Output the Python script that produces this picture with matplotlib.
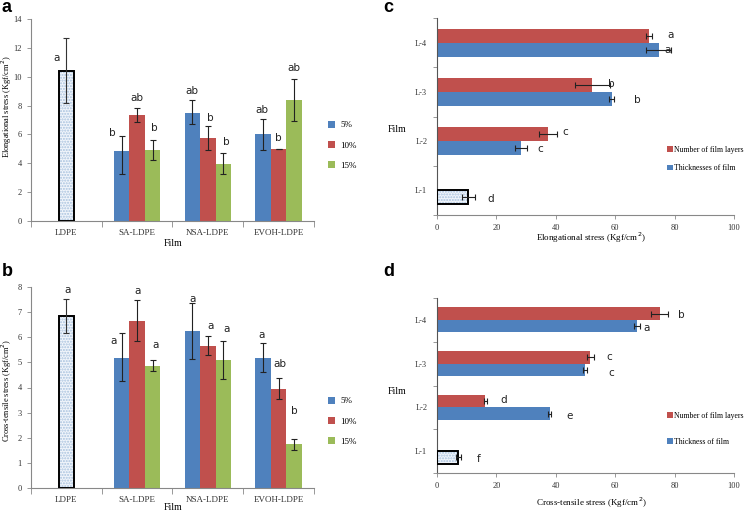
import matplotlib.pyplot as plt
import numpy as np

plt.rcParams['font.family'] = ['Liberation Serif', 'DejaVu Serif']

# ---- data panels a / b ----
films = ["LDPE", "SA-LDPE", "NSA-LDPE", "EVOH-LDPE"]
conc = ["5%", "10%", "15%"]

ldpe_elong = 10.4
ldpe_elong_lo = 8.15
ldpe_elong_hi = 12.65
elong_5 = [4.88, 7.51, 6.0]
elong_5_lo = [3.26, 6.72, 4.92]
elong_5_hi = [5.86, 8.42, 7.06]
elong_10 = [7.33, 5.72, 5.0]
elong_10_lo = [6.84, 4.91, 4.98]
elong_10_hi = [7.84, 6.58, 5.02]
elong_15 = [4.91, 3.93, 8.37]
elong_15_lo = [4.26, 3.26, 6.93]
elong_15_hi = [5.6, 4.7, 9.81]
elong_letters = ["a", "b", "ab", "b", "ab", "b", "b", "ab", "b", "ab"]

ldpe_cross = 6.83
ldpe_cross_lo = 6.17
ldpe_cross_hi = 7.51
cross_5 = [5.19, 6.25, 5.17]
cross_5_lo = [4.26, 5.13, 4.6]
cross_5_hi = [6.17, 7.35, 5.77]
cross_10 = [6.64, 5.66, 3.95]
cross_10_lo = [5.85, 5.29, 3.53]
cross_10_hi = [7.48, 6.03, 4.37]
cross_15 = [4.85, 5.1, 1.75]
cross_15_lo = [4.66, 4.34, 1.51]
cross_15_hi = [5.08, 5.85, 1.95]
cross_letters = ["a", "a", "a", "a", "a", "a", "a", "a", "ab", "b"]

# ---- data panels c / d ----
layers = ["L-1", "L-2", "L-3", "L-4"]
elong_layers = [37.4, 52.3, 71.5]
elong_layers_err = [3.1, 5.9, 1.0]
elong_thick = [28.2, 58.8, 74.7]
elong_thick_err = [2.1, 0.8, 4.2]
elong_l1 = 10.6
elong_l1_err = 2.3
elong_layer_letters = ["d", "c", "c", "b", "b", "a", "a"]

cross_layers = [16.3, 51.6, 75.0]
cross_layers_err = [0.4, 1.2, 2.8]
cross_thick = [37.9, 49.9, 67.4]
cross_thick_err = [0.6, 0.7, 1.0]
cross_l1 = 7.2
cross_l1_err = 0.8
cross_layer_letters = ["f", "e", "d", "c", "c", "a", "b"]

# letter positions (layout only)
pos_a = [(-0.14, 11.3), (0.65, 6.08), (1.0, 8.5), (1.25, 6.47), (1.77, 9.03),
         (2.03, 7.16), (2.26, 5.5), (2.76, 7.69), (2.99, 5.77), (3.21, 10.6)]
pos_b = [(0.02, 7.87), (0.66, 5.85), (1.0, 7.84), (1.26, 5.7), (1.79, 7.51),
         (2.04, 6.45), (2.26, 6.34), (2.76, 6.09), (3.02, 4.93), (3.22, 3.05)]
pos_c = [(18, -0.17), (34.8, 0.84), (43.3, 1.18), (67.6, 1.83), (58.6, 2.17),
         (77.7, 2.85), (78.8, 3.15)]
pos_d = [(14.1, -0.17), (44.6, 0.81), (22.4, 1.17), (58.7, 1.79), (57.9, 2.14),
         (70.7, 2.82), (82.1, 3.11)]

BLUE = "#4f81bd"
RED = "#c0504d"
GREEN = "#9bbb59"
SPINE = "#888888"
HATCH_FACE = "#f1f5fb"
HATCH_EDGE = "#a8c2de"

fig = plt.figure(figsize=(7.46, 5.12), dpi=100)


def style_axes(ax):
    for s in ["top", "right"]:
        ax.spines[s].set_visible(False)
    for s in ["left", "bottom"]:
        ax.spines[s].set_color(SPINE)
        ax.spines[s].set_linewidth(0.8)
    ax.tick_params(colors="#333333", labelsize=6, width=0.6, length=3,
                   color=SPINE)


def hatched_bar(ax, x, v, horizontal=False, size=0.22):
    if horizontal:
        ax.barh(x, v, height=size, color=HATCH_FACE, edgecolor=HATCH_EDGE,
                hatch="......", linewidth=0, zorder=2)
        ax.barh(x, v, height=size, fill=False, edgecolor="black",
                linewidth=1.4, zorder=3)
    else:
        ax.bar(x, v, width=size, color=HATCH_FACE, edgecolor=HATCH_EDGE,
               hatch="......", linewidth=0, zorder=2)
        ax.bar(x, v, width=size, fill=False, edgecolor="black",
               linewidth=1.4, zorder=3)


def group_panel(rect, ldpe, ldpe_lo, ldpe_hi, series, letters, pos, ymax,
                yticks, ylabel, label_y, legend_y, panel, panel_y, xlabel_y):
    ax = fig.add_axes(rect)
    style_axes(ax)
    w = 0.22
    hatched_bar(ax, 0, ldpe, size=w)
    ax.errorbar(0, ldpe, yerr=[[ldpe - ldpe_lo], [ldpe_hi - ldpe]], fmt="none",
                ecolor="#333333", elinewidth=0.8, capsize=2.2, capthick=0.8,
                zorder=4)
    x = np.arange(1, 4)
    handles = []
    for k, (vals, lo, hi, col) in enumerate(series):
        xs = x + (k - 1) * w
        b = ax.bar(xs, vals, width=w, color=col, zorder=2)
        handles.append(b)
        vals = np.array(vals)
        ax.errorbar(xs, vals, yerr=[vals - np.array(lo), np.array(hi) - vals],
                    fmt="none", ecolor="#222222", elinewidth=0.8, capsize=2.2,
                    capthick=0.8, zorder=4)
    for t, (px, py) in zip(letters, pos):
        ax.text(px, py, t, family="DejaVu Sans", fontsize=7.5, ha="center",
                va="center", color="#222222")
    ax.set_xlim(-0.5, 3.5)
    ax.set_ylim(0, ymax)
    ax.set_yticks(yticks)
    ax.set_xticks(range(4))
    ax.set_xticklabels(films, fontsize=6.5)
    ax.set_xticks(np.arange(-0.5, 4, 1), minor=True)
    ax.tick_params(axis="x", which="major", length=0, pad=6)
    ax.tick_params(axis="x", which="minor", length=4, color=SPINE, width=0.6)
    fig.text(31 / 746 + 0.19, 1 - xlabel_y / 512, "Film", fontsize=7,
             ha="center", va="center")
    fig.text(7 / 746, 1 - label_y / 512, ylabel, rotation=90, fontsize=6,
             ha="center", va="center")
    fig.text(2 / 746, 1 - panel_y / 512, panel, family="Liberation Sans",
             fontweight="bold", fontsize=13, ha="left", va="center")
    fig.legend(handles, conc, loc="upper left",
               bbox_to_anchor=(324 / 746, 1 - legend_y / 512), frameon=False,
               fontsize=6.5, handlelength=0.8, handleheight=0.8,
               labelspacing=1.3, handletextpad=0.6, borderaxespad=0)
    return ax


group_panel([31 / 746, 1 - 221 / 512, 283 / 746, 202 / 512],
            ldpe_elong, ldpe_elong_lo, ldpe_elong_hi,
            [(elong_5, elong_5_lo, elong_5_hi, BLUE),
             (elong_10, elong_10_lo, elong_10_hi, RED),
             (elong_15, elong_15_lo, elong_15_hi, GREEN)],
            elong_letters, pos_a, 14, range(0, 15, 2),
            "Elongational stress (Kgf/cm$^2$)", 107, 117, "a", 8, 244)

group_panel([31 / 746, 1 - 488 / 512, 283 / 746, 201 / 512],
            ldpe_cross, ldpe_cross_lo, ldpe_cross_hi,
            [(cross_5, cross_5_lo, cross_5_hi, BLUE),
             (cross_10, cross_10_lo, cross_10_hi, RED),
             (cross_15, cross_15_lo, cross_15_hi, GREEN)],
            cross_letters, pos_b, 8, range(0, 9),
            "Cross-tensile stress (Kgf/cm$^2$)", 390, 393, "b", 272, 507)


def layer_panel(rect, red, red_err, blue, blue_err, l1, l1_err, letters, pos,
                labels, xlabel, xlabel_y, film_y, legend_y, legend_gap,
                panel, panel_y):
    ax = fig.add_axes(rect)
    style_axes(ax)
    h = 0.285
    y = np.arange(1, 4)
    hatched_bar(ax, -h / 2, l1, horizontal=True, size=h)
    ax.errorbar(l1, -h / 2, xerr=l1_err, fmt="none", ecolor="#222222",
                elinewidth=0.8, capsize=2.2, capthick=0.8, zorder=4)
    r = ax.barh(y + h / 2, red, height=h, color=RED, zorder=2)
    b = ax.barh(y - h / 2, blue, height=h, color=BLUE, zorder=2)
    ax.errorbar(red, y + h / 2, xerr=red_err, fmt="none", ecolor="#222222",
                elinewidth=0.8, capsize=2.2, capthick=0.8, zorder=4)
    ax.errorbar(blue, y - h / 2, xerr=blue_err, fmt="none", ecolor="#222222",
                elinewidth=0.8, capsize=2.2, capthick=0.8, zorder=4)
    for t, (px, py) in zip(letters, pos):
        ax.text(px, py, t, family="DejaVu Sans", fontsize=7.5, ha="center",
                va="center", color="#222222")
    ax.set_xlim(0, 100)
    ax.set_ylim(-0.5, 3.5)
    ax.set_xticks(range(0, 101, 20))
    ax.set_yticks(range(4))
    ax.set_yticklabels(layers, fontsize=6)
    ax.set_yticks(np.arange(-0.5, 4, 1), minor=True)
    ax.tick_params(axis="y", which="major", length=0, pad=7)
    ax.tick_params(axis="y", which="minor", length=3, color=SPINE, width=0.6)
    ax.spines["left"].set_color("#555555")
    fig.text(591 / 746, 1 - xlabel_y / 512, xlabel, fontsize=6.5,
             ha="center", va="center")
    fig.text(397 / 746, 1 - film_y / 512, "Film", fontsize=7, ha="center",
             va="center")
    fig.text(383 / 746, 1 - panel_y / 512, panel, family="Liberation Sans",
             fontweight="bold", fontsize=13, ha="left", va="center")
    fig.legend([r, b], labels, loc="upper left",
               bbox_to_anchor=(664 / 746, 1 - legend_y / 512), frameon=False,
               fontsize=5.6, handlelength=0.7, handleheight=0.8,
               labelspacing=legend_gap, handletextpad=0.2, borderaxespad=0)
    return ax


layer_panel([437 / 746, 1 - 215 / 512, 297 / 746, 197 / 512],
            elong_layers, elong_layers_err, elong_thick, elong_thick_err,
            elong_l1, elong_l1_err, elong_layer_letters, pos_c,
            ["Number of film layers", "Thicknesses of film"],
            "Elongational stress (Kgf/cm$^2$)", 238, 129, 143, 1.3, "c", 8)

layer_panel([437 / 746, 1 - 473 / 512, 297 / 746, 175 / 512],
            cross_layers, cross_layers_err, cross_thick, cross_thick_err,
            cross_l1, cross_l1_err, cross_layer_letters, pos_d,
            ["Number of film layers", "Thickness of film"],
            "Cross-tensile stress (Kgf/cm$^2$)", 503, 391, 409, 2.3, "d", 272)

fig.savefig("out.png", dpi=100)
